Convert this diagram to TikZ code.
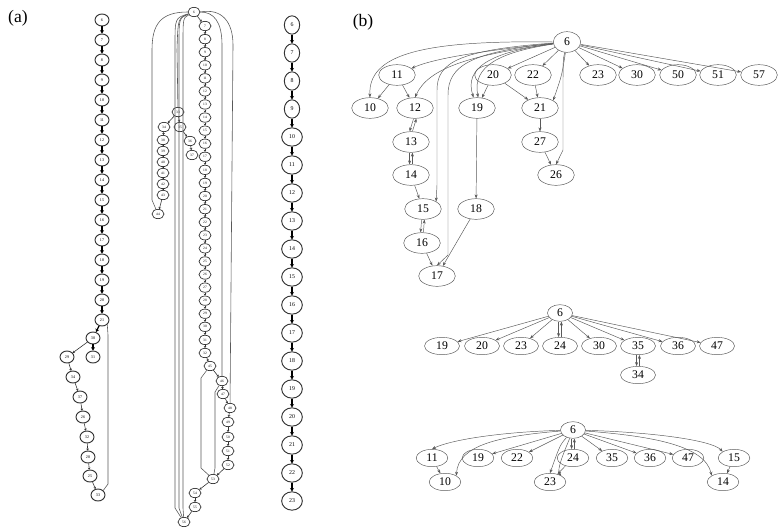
\documentclass[tikz,border=0pt]{standalone}
\usepackage{fontspec}
\setmainfont{Liberation Serif}
\usepackage{tikz}
\usetikzlibrary{arrows.meta,positioning,shapes.geometric}
\tikzset{
  panellabel/.style={font=\fontsize{15}{16}\selectfont, inner sep=0pt},
  gnode/.style={ellipse, draw=black!65, thin, minimum width=1.1cm,
    minimum height=0.62cm, inner sep=0pt, font=\fontsize{10}{12}\selectfont},
  rootnode/.style={gnode, minimum width=0.82cm},
  lownode/.style={gnode, minimum width=1.05cm, minimum height=0.52cm},
  lowroot/.style={gnode, minimum width=0.75cm, minimum height=0.5cm},
  tnode/.style={ellipse, draw=black!80, line width=0.8pt, minimum width=0.42cm,
    minimum height=0.36cm, inner sep=0pt, font=\fontsize{3.5}{4}\selectfont},
  mnode/.style={tnode, line width=0.6pt, minimum width=0.36cm, minimum height=0.28cm,
    font=\fontsize{3}{3.5}\selectfont},
  bnode/.style={tnode, minimum width=0.46cm, minimum height=0.55cm,
    font=\fontsize{5}{6}\selectfont},
  treearrow/.style={-{Stealth[length=1.2mm,width=0.9mm]}, black!65, thin},
  chainarrow/.style={-{Stealth[length=1mm,width=1.2mm]}, black, line width=1pt},
  thinarrow/.style={-{Stealth[length=0.6mm,width=0.8mm]}, black!80, line width=0.5pt},
  longedge/.style={black!65, line width=0.5pt},
}

\begin{document}
\begin{tikzpicture}[x=0.03cm, y=-0.03cm]
\useasboundingbox (0,0) rectangle (781,530);
\node[panellabel] (lbla) at (18,18) {(a)};
\node[panellabel] (lblb) at (363,22) {(b)};

% (a) first chain
\foreach \k [evaluate=\k as \lab using int(\k+6)] in {0,...,15}
  \node[tnode] (l\k) at (102,{20+20*\k}) {\lab};
\foreach \k [count=\j from 1] in {0,...,14}
  \draw[chainarrow] (l\k) -- (l\j);
\node[tnode] (l16) at (93,338) {30};
\node[tnode] (l17) at (67,357) {29};
\node[tnode] (l18) at (93,357) {31};
\node[tnode] (l19) at (73,377) {34};
\node[tnode] (l20) at (80,397) {37};
\node[tnode] (l21) at (83,417) {26};
\node[tnode] (l22) at (87,437) {32};
\node[tnode] (l23) at (88,457) {28};
\node[tnode] (l24) at (90,476) {25};
\node[tnode] (l25) at (98,495) {33};
\draw[chainarrow] (l15) -- (l16);
\draw[thinarrow] (l16) -- (l17);
\draw[chainarrow] (l16) -- (l18);
\foreach \a/\b in {17/19,19/20,20/21,21/22,22/23,23/24,24/25}
  \draw[thinarrow] (l\a) -- (l\b);
\draw[longedge] (l15.south east) -- (108,335) -- (108,484) -- (l25.north east);

% (a) middle tree
\node[mnode] (m0) at (194,12) {6};
\foreach \k [evaluate=\k as \lab using int(\k+6)] in {1,...,26}
  \node[mnode] (m\k) at (205,{26+13.08*(\k-1)}) {\lab};
\draw[thinarrow] (m0) -- (m1);
\foreach \k [count=\j from 2] in {1,...,25}
  \draw[thinarrow] (m\k) -- (m\j);
\node[mnode] (mb1) at (178,112) {33};
\node[mnode] (mb2) at (164,127) {34};
\node[mnode] (mb3) at (180,127) {35};
\node[mnode] (mb4) at (190,141) {36};
\node[mnode] (mb5) at (192,155) {37};
\foreach \k [evaluate=\k as \lab using int(\k+37)] in {1,...,6}
  \node[mnode] (ml\k) at (163,{129+11*\k}) {\lab};
\node[mnode] (ml7) at (158,214) {44};
\draw[thinarrow] (mb1) -- (mb2);
\draw[thinarrow] (mb1) -- (mb3);
\draw[thinarrow] (mb3) -- (mb4);
\draw[thinarrow] (mb4) -- (mb5);
\draw[thinarrow] (mb2) -- (ml1);
\foreach \k [count=\j from 2] in {1,...,6}
  \draw[thinarrow] (ml\k) -- (ml\j);
\node[mnode] (mr1) at (210,366) {45};
\node[mnode] (mr2) at (222,381) {46};
\node[mnode] (mr3) at (223,394) {47};
\node[mnode] (mr4) at (230,408) {48};
\node[mnode] (mr5) at (228,422) {49};
\node[mnode] (mr6) at (228,437) {50};
\node[mnode] (mr7) at (228,451) {51};
\node[mnode] (mr8) at (228,465) {52};
\node[mnode] (mr9) at (213,479) {53};
\node[mnode] (mr10) at (195,493) {54};
\node[mnode] (mr11) at (195,507) {55};
\node[mnode] (mbot) at (184,522) {56};
\draw[thinarrow] (m26) -- (mr1);
\foreach \a/\b in {1/2,2/3,3/4,4/5,5/6,6/7,7/8,8/9,9/10,10/11}
  \draw[thinarrow] (mr\a) -- (mr\b);
\draw[thinarrow] (mr11) -- (mbot);
\draw[longedge] (m0.west) .. controls (160,12) and (152,25) .. (152,50) -- (152,200) -- (ml7);
\draw[longedge] (m0) .. controls (178,18) .. (177,50) -- (mb1);
\foreach \xx in {175,179,183}
  \draw[longedge] (m0) .. controls (\xx,18) .. (\xx,45) -- (\xx,508) -- (mbot);
\draw[longedge] (m0.east) .. controls (214,12) and (222,22) .. (222,45) -- (mr2);
\draw[longedge] (m0.east) .. controls (222,8) and (233,22) .. (233,45) -- (mr4);
\draw[longedge] (mr1) -- (201,378) -- (201,468) -- (mr9);
\draw[longedge] (mr2) -- (215,392) -- (215,468) -- (mr9);

% (a) plain chain
\foreach \k [evaluate=\k as \lab using int(\k+6)] in {0,...,3}
  \node[bnode] (r\k) at (292,{25+28*\k}) {\lab};
\foreach \k [evaluate=\k as \lab using int(\k+6)] in {4,...,17}
  \node[bnode, minimum width=0.62cm] (r\k) at (292,{25+28*\k}) {\lab};
\foreach \k [count=\j from 1] in {0,...,16}
  \draw[chainarrow] (r\k) -- (r\j);

% (b) first tree
\node[rootnode] (t6) at (567,42) {6};
\node[gnode] (t11) at (397,75) {11};
\node[gnode] (t20) at (493,75) {20};
\node[gnode] (t22) at (533,75) {22};
\node[gnode] (t23) at (598,75) {23};
\node[gnode] (t30) at (637,75) {30};
\node[gnode] (t50) at (678,75) {50};
\node[gnode] (t51) at (718,75) {51};
\node[gnode] (t57) at (759,75) {57};
\node[gnode] (t10) at (370,108) {10};
\node[gnode] (t12) at (415,108) {12};
\node[gnode] (t19) at (477,108) {19};
\node[gnode] (t21) at (540,108) {21};
\node[gnode] (t13) at (411,142) {13};
\node[gnode] (t27) at (540,142) {27};
\node[gnode] (t14) at (411,175) {14};
\node[gnode] (t26) at (556,175) {26};
\node[gnode] (t15) at (423,209) {15};
\node[gnode] (t18) at (476,209) {18};
\node[gnode] (t16) at (422,243) {16};
\node[gnode] (t17) at (437,276) {17};

\draw[treearrow] (t6.west) .. controls (420,40) and (368,55) .. (t10.north);
\draw[treearrow] (t6) .. controls (470,52) and (430,60) .. (t11);
\draw[treearrow] (t6) .. controls (470,55) and (428,68) .. (t12.north);
\draw[treearrow] (t11) -- (t10);
\draw[treearrow] (t11) -- (t12);
\draw[treearrow] ([xshift=-1.2pt]t12.south) -- ([xshift=-1.2pt]t13.north);
\draw[treearrow] ([xshift=1.2pt]t13.north) -- ([xshift=1.2pt]t12.south);
\draw[treearrow] ([xshift=-1.2pt]t13.south) -- ([xshift=-1.2pt]t14.north);
\draw[treearrow] ([xshift=1.2pt]t14.north) -- ([xshift=1.2pt]t13.south);
\draw[treearrow] (t14) -- (t15);
\draw[treearrow] ([xshift=-1.2pt]t15.south) -- ([xshift=-1.2pt]t16.north);
\draw[treearrow] ([xshift=1.2pt]t16.north) -- ([xshift=1.2pt]t15.south);
\draw[treearrow] (t16) -- (t17);
\draw[treearrow] (t6) .. controls (460,50) and (437,62) .. (437,90) -- (437,185) -- (t15.north east);
\draw[treearrow] (t6) .. controls (470,52) and (448,66) .. (448,95) -- (448,255) -- (t17.north);
\draw[treearrow] (t6) .. controls (490,52) and (464,68) .. ([xshift=-3pt]t19.north);
\draw[treearrow] (t6) .. controls (500,52) and (472,66) .. ([xshift=1pt]t19.north);
\draw[treearrow] (t19) -- (t18);
\draw[treearrow] (t18) -- (t17);
\draw[treearrow] (t6) -- (t20);
\draw[treearrow] (t6) -- (t22);
\draw[treearrow] (t20) -- (t19);
\draw[treearrow] (t20) -- (t21);
\draw[treearrow] (t22) -- (t21);
\draw[treearrow] (t6) .. controls (562,75) .. (t21.north east);
\draw[treearrow] (t21) -- (t27);
\draw[treearrow] (t27) -- (t26);
\draw[treearrow] (t6) .. controls (563,60) .. (563,90) -- (563,150) -- (t26.north);
\draw[treearrow] (t6) -- (t23);
\draw[treearrow] (t6) -- (t30);
\draw[treearrow] (t6) -- (t50);
\draw[treearrow] (t6) -- (t51);
\draw[treearrow] (t6) -- (t57);

% (b) second tree
\node[lowroot] (u6) at (560,313) {6};
\node[lownode] (u19) at (442,346) {19};
\node[lownode] (u20) at (482,346) {20};
\node[lownode] (u23) at (521,346) {23};
\node[lownode] (u24) at (560,346) {24};
\node[lownode] (u30) at (599,346) {30};
\node[lownode] (u35) at (638,346) {35};
\node[lownode] (u36) at (678,346) {36};
\node[lownode] (u47) at (717,346) {47};
\node[lownode] (u34) at (638,375) {34};
\draw[treearrow] (u6) -- (u19);
\draw[treearrow] (u6) -- (u20);
\draw[treearrow] (u6) -- (u23);
\draw[treearrow] ([xshift=-1.2pt]u6.south) -- ([xshift=-1.2pt]u24.north);
\draw[treearrow] ([xshift=1.2pt]u24.north) -- ([xshift=1.2pt]u6.south);
\draw[treearrow] (u6) -- (u30);
\draw[treearrow] (u6) -- (u35);
\draw[treearrow] (u6) -- (u36);
\draw[treearrow] (u6) -- (u47);
\draw[treearrow] ([xshift=-1.2pt]u35.south) -- ([xshift=-1.2pt]u34.north);
\draw[treearrow] ([xshift=1.2pt]u34.north) -- ([xshift=1.2pt]u35.south);

% (b) third tree
\node[lowroot] (w6) at (573,430) {6};
\node[lownode, minimum width=0.95cm] (w11) at (432,458) {11};
\node[lownode, minimum width=0.95cm] (w19) at (478,458) {19};
\node[lownode, minimum width=0.95cm] (w22) at (517,458) {22};
\node[lownode, minimum width=0.95cm] (w24) at (573,458) {24};
\node[lownode, minimum width=0.95cm] (w35) at (612,458) {35};
\node[lownode, minimum width=0.95cm] (w36) at (650,458) {36};
\node[lownode, minimum width=0.95cm] (w47) at (688,458) {47};
\node[lownode, minimum width=0.95cm] (w15) at (734,458) {15};
\node[lownode, minimum width=0.95cm] (w10) at (445,482) {10};
\node[lownode, minimum width=0.95cm] (w23) at (550,482) {23};
\node[lownode, minimum width=0.95cm] (w14) at (723,482) {14};
\draw[treearrow] (w6) .. controls (500,432) and (450,440) .. (w11.north);
\draw[treearrow] (w6) .. controls (500,436) and (458,445) .. (w10.north east);
\draw[treearrow] (w11) -- (w10);
\draw[treearrow] (w6) -- (w19);
\draw[treearrow] (w6) -- (w22);
\draw[treearrow] ([xshift=-1.2pt]w6.south) -- ([xshift=-1.2pt]w24.north);
\draw[treearrow] ([xshift=1.2pt]w24.north) -- ([xshift=1.2pt]w6.south);
\draw[treearrow] (w6) .. controls (560,445) .. (w23.north);
\draw[treearrow] (w6) .. controls (565,450) and (556,470) .. (w23.north east);
\draw[treearrow] (w24) -- (w23);
\draw[treearrow] (w6) -- (w35);
\draw[treearrow] (w6) -- (w36);
\draw[treearrow] (w6) -- (w47);
\draw[treearrow] (w6) .. controls (650,432) and (712,440) .. (w15.north west);
\draw[treearrow] (w6) .. controls (650,436) and (705,445) .. (w14.north west);
\draw[treearrow] (w15) -- (w14);
\end{tikzpicture}
\end{document}
